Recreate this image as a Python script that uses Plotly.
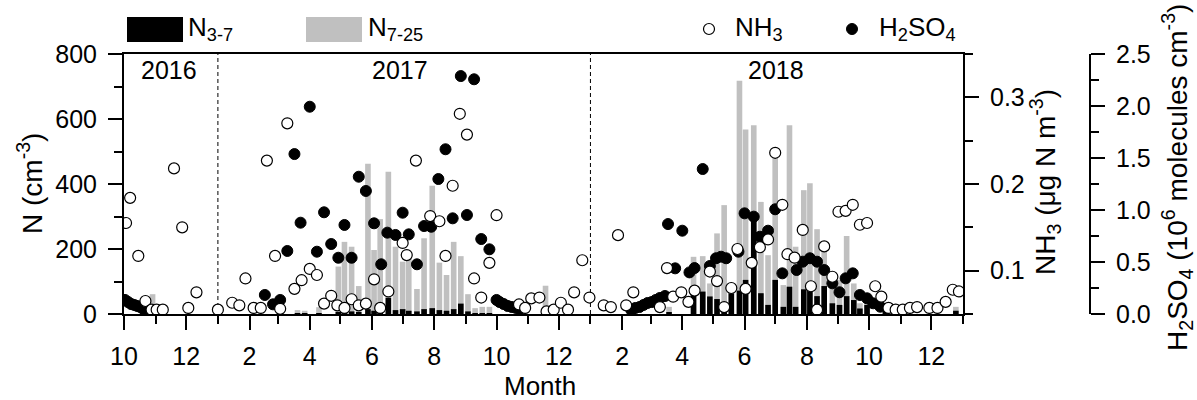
import plotly.graph_objects as go

# ---------------- data ----------------
bar_dates = ["2016-10-29", "2017-03-20", "2017-03-27", "2017-04-10", "2017-04-29", "2017-05-05", "2017-05-12",
             "2017-05-19", "2017-05-28", "2017-06-03", "2017-06-09", "2017-06-17", "2017-06-24",
             "2017-07-01", "2017-07-07", "2017-07-15", "2017-07-22", "2017-07-30", "2017-08-06",
             "2017-08-13", "2017-08-20", "2017-08-27", "2017-09-03", "2017-09-10", "2017-09-17",
             "2017-09-24", "2017-11-18", "2018-03-19", "2018-04-12", "2018-04-21", "2018-04-28",
             "2018-05-05", "2018-05-12", "2018-05-19", "2018-05-27", "2018-06-02", "2018-06-10",
             "2018-06-17", "2018-06-24", "2018-07-01", "2018-07-09", "2018-07-15", "2018-07-21",
             "2018-07-29", "2018-08-04", "2018-08-11", "2018-08-18", "2018-08-26", "2018-09-02",
             "2018-09-09", "2018-09-16", "2018-09-22", "2018-09-29", "2018-10-17", "2018-12-25"]
n7_25 = [61, 12, 10, 21, 146, 222, 207, 86, 462, 197, 292, 438, 207, 161, 188, 77, 233, 395, 158,
         120, 222, 178, 61, 18, 22, 22, 87, 22, 176, 178, 94, 248, 335, 89, 718, 568, 581,
         345, 181, 494, 89, 581, 207, 381, 402, 261, 207, 125, 105, 240, 94, 33, 38, 34, 22]
n3_7 = [5, 3, 3, 3, 6, 10, 8, 6, 15, 10, 12, 50, 12, 15, 10, 8, 15, 18, 12, 10, 15, 32, 8, 3, 3,
        3, 3, 5, 84, 69, 54, 46, 22, 64, 72, 105, 290, 64, 28, 105, 22, 84, 22, 76, 79, 55, 86,
        33, 28, 55, 43, 17, 28, 10, 10]

nh3_dates = ["2016-10-03", "2016-10-07", "2016-10-15", "2016-10-22", "2016-10-28", "2016-11-02",
             "2016-11-08", "2016-11-19", "2016-11-27", "2016-12-03", "2016-12-11", "2017-01-01",
             "2017-01-15", "2017-01-22", "2017-01-28", "2017-02-05", "2017-02-12", "2017-02-18",
             "2017-02-26", "2017-03-03", "2017-03-10", "2017-03-17", "2017-03-24", "2017-04-01",
             "2017-04-08", "2017-04-15", "2017-04-22", "2017-04-28", "2017-05-05", "2017-05-12",
             "2017-05-19", "2017-05-26", "2017-06-03", "2017-06-09", "2017-06-17", "2017-07-01",
             "2017-07-05", "2017-07-14", "2017-07-28", "2017-08-06", "2017-08-12", "2017-08-19",
             "2017-08-26", "2017-09-02", "2017-09-09", "2017-09-16", "2017-09-24", "2017-10-01",
             "2017-10-23", "2017-10-29", "2017-11-04", "2017-11-12", "2017-11-19", "2017-11-26",
             "2017-12-03", "2017-12-10", "2017-12-16", "2017-12-24", "2017-12-31", "2018-01-14",
             "2018-01-21", "2018-01-28", "2018-02-05", "2018-02-12", "2018-03-10", "2018-03-17",
             "2018-03-23", "2018-03-31", "2018-04-07", "2018-04-13", "2018-04-28", "2018-05-05",
             "2018-05-12", "2018-05-19", "2018-05-25", "2018-06-02", "2018-06-08", "2018-06-16",
             "2018-06-24", "2018-07-01", "2018-07-08", "2018-07-13", "2018-07-20", "2018-07-28",
             "2018-08-05", "2018-08-11", "2018-08-18", "2018-08-26", "2018-09-01", "2018-09-08",
             "2018-09-15", "2018-09-22", "2018-09-29", "2018-10-07", "2018-10-13", "2018-10-20",
             "2018-10-27", "2018-11-03", "2018-11-10", "2018-11-17", "2018-11-29", "2018-12-07",
             "2018-12-15", "2018-12-22", "2018-12-28"]
nh3 = [0.155, 0.184, 0.117, 0.065, 0.055, 0.055, 0.055, 0.218, 0.150, 0.057, 0.075, 0.055,
       0.063, 0.060, 0.091, 0.057, 0.057, 0.227, 0.117, 0.056, 0.270, 0.079, 0.089, 0.102,
       0.095, 0.062, 0.071, 0.060, 0.057, 0.067, 0.060, 0.062, 0.090, 0.057, 0.076, 0.132,
       0.118, 0.227, 0.163, 0.157, 0.117, 0.198, 0.281, 0.257, 0.091, 0.069, 0.109, 0.164,
       0.061, 0.057, 0.068, 0.069, 0.053, 0.055, 0.063, 0.055, 0.075, 0.112, 0.069, 0.060,
       0.058, 0.141, 0.060, 0.075, 0.058, 0.103, 0.070, 0.075, 0.064, 0.077, 0.099, 0.088,
       0.058, 0.080, 0.125, 0.079, 0.109, 0.127, 0.136, 0.236, 0.176, 0.119, 0.115, 0.147,
       0.082, 0.055, 0.128, 0.093, 0.168, 0.169, 0.176, 0.153, 0.155, 0.082, 0.070, 0.057,
       0.055, 0.055, 0.057, 0.058, 0.057, 0.057, 0.064, 0.078, 0.076]

h2so4_dates = ["2016-10-02", "2016-10-05", "2016-10-08", "2016-10-11", "2016-10-14", "2016-10-17",
               "2016-10-20", "2017-02-16", "2017-02-24", "2017-03-03", "2017-03-10", "2017-03-17",
               "2017-03-23", "2017-04-01", "2017-04-08", "2017-04-15", "2017-04-22", "2017-04-29",
               "2017-05-05", "2017-05-12", "2017-05-19", "2017-05-26", "2017-06-03", "2017-06-10",
               "2017-06-16", "2017-06-24", "2017-07-01", "2017-07-07", "2017-07-15", "2017-07-22",
               "2017-07-29", "2017-08-05", "2017-08-12", "2017-08-19", "2017-08-27", "2017-09-02",
               "2017-09-09", "2017-09-16", "2017-09-24", "2017-10-01", "2017-10-04", "2017-10-08",
               "2017-10-12", "2017-10-16", "2017-10-20", "2017-10-24", "2018-02-10", "2018-02-14",
               "2018-02-18", "2018-02-22", "2018-02-26", "2018-03-02", "2018-03-06", "2018-03-10",
               "2018-03-15", "2018-03-18", "2018-03-25", "2018-04-01", "2018-04-08", "2018-04-13",
               "2018-04-21", "2018-04-28", "2018-05-04", "2018-05-09", "2018-05-14", "2018-05-26",
               "2018-06-01", "2018-06-10", "2018-06-16", "2018-06-24", "2018-07-01", "2018-07-08",
               "2018-07-22", "2018-07-28", "2018-08-04", "2018-08-11", "2018-08-18", "2018-08-26",
               "2018-09-02", "2018-09-08", "2018-09-15", "2018-09-22", "2018-09-29", "2018-10-05",
               "2018-10-12"]
h2so4 = [0.135, 0.115, 0.096, 0.087, 0.077, 0.067, 0.048, 0.183, 0.093, 0.135, 0.606, 1.538,
         0.878, 1.993, 0.599, 0.978, 0.673, 0.541, 0.856, 0.541, 1.320, 1.183, 0.872, 0.478,
         0.782, 0.760, 0.974, 0.766, 0.478, 0.846, 0.839, 1.298, 1.584, 0.920, 2.288, 0.952,
         2.257, 0.721, 0.622, 0.135, 0.115, 0.096, 0.077, 0.067, 0.058, 0.048, 0.038, 0.058,
         0.067, 0.087, 0.106, 0.115, 0.135, 0.154, 0.173, 0.865, 0.439, 0.801, 0.400, 0.442,
         1.394, 0.462, 0.536, 0.551, 0.536, 0.599, 0.968, 0.936, 0.743, 0.801, 1.007, 0.391,
         0.423, 0.503, 0.536, 0.503, 0.423, 0.295, 0.209, 0.343, 0.391, 0.183, 0.151, 0.103,
         0.070]

x_tick_dates = ["2016-10-01", "2016-12-01", "2017-02-01", "2017-04-01", "2017-06-01", "2017-08-01",
                "2017-10-01", "2017-12-01", "2018-02-01", "2018-04-01", "2018-06-01", "2018-08-01",
                "2018-10-01", "2018-12-01"]
x_tick_labels = ["10", "12", "2", "4", "6", "8", "10", "12", "2", "4", "6", "8", "10", "12"]
year_labels = ["2016", "2017", "2018"]
year_boundaries = ["2017-01-01", "2018-01-01"]

# ---------------- layout helpers ----------------
W, H = 1197, 400
L, R, T, B = 124, 60, 54, 86
PW, PH = W - L - R, H - T - B
def px(x):
    return (x - L) / PW
def py(y):
    return (H - B - y) / PH

FONT = "Arial, 'Liberation Sans', sans-serif"
TICK = 25
TITLE = 28
LEG = 26

fig = go.Figure()
BARW = 5.5 * 86400000
fig.add_trace(go.Bar(x=bar_dates, y=n7_25, width=BARW, marker=dict(color="#c0c0c0", line=dict(width=0)),
                     name="N7-25", yaxis="y"))
fig.add_trace(go.Bar(x=bar_dates, y=n3_7, width=BARW, marker=dict(color="#000000", line=dict(width=0)),
                     name="N3-7", yaxis="y"))
fig.add_trace(go.Scatter(x=h2so4_dates, y=h2so4, mode="markers", yaxis="y2", name="H2SO4",
                         marker=dict(size=11, color="black", line=dict(color="black", width=1))))
fig.add_trace(go.Scatter(x=nh3_dates, y=nh3, mode="markers", yaxis="y3", name="NH3",
                         marker=dict(size=11, color="white", line=dict(color="black", width=1.2))))

axis_common = dict(showline=True, linecolor="black", linewidth=2, ticks="outside", ticklen=14,
                   tickwidth=1.5, tickcolor="black", showgrid=False, zeroline=False, automargin=False,
                   tickfont=dict(family=FONT, size=TICK, color="black"))

fig.update_layout(
    width=W, height=H, margin=dict(l=L, r=R, t=T, b=B, autoexpand=False),
    paper_bgcolor="white", plot_bgcolor="white", barmode="overlay", showlegend=False,
    font=dict(family=FONT, color="black"),
    xaxis=dict(type="date", domain=[0, px(963)], range=["2016-10-01", "2019-01-01"],
               tickmode="array", tickvals=x_tick_dates, ticktext=x_tick_labels,
               mirror=True, ticklabelstandoff=5,
               minor=dict(ticks="outside", ticklen=8, tickwidth=1.5, tickcolor="black",
                          dtick="M1", tick0="2016-10-01", showgrid=False),
               **axis_common),
    yaxis=dict(range=[0, 800], dtick=200, tick0=0, ticklabelstandoff=6,
               minor=dict(ticks="outside", ticklen=8, tickwidth=1.5, tickcolor="black", dtick=100,
                          showgrid=False),
               **axis_common),
    yaxis2=dict(overlaying="y", side="right", anchor="free", position=px(1090), range=[0, 2.5],
                dtick=0.5, tick0=0, tickformat=".1f", ticklabelstandoff=6,
                minor=dict(ticks="outside", ticklen=8, tickwidth=1.5, tickcolor="black", dtick=0.25,
                           showgrid=False),
                **axis_common),
    yaxis3=dict(overlaying="y", side="right", anchor="x", range=[0.05, 0.35], dtick=0.1, tick0=0,
                tickformat=".1f", ticklabelstandoff=6,
                minor=dict(ticks="outside", ticklen=8, tickwidth=1.5, tickcolor="black", dtick=0.05,
                           showgrid=False),
                **axis_common),
)

# year boundaries
for d in year_boundaries:
    fig.add_shape(type="line", xref="x", yref="paper", x0=d, x1=d, y0=0, y1=1,
                  line=dict(color="black", width=1, dash="4px,3px"), layer="below")

annots = []
# year labels
for lab, xc in zip(year_labels, [169, 400, 776]):
    annots.append(dict(text=lab, x=px(xc), y=py(70), xref="paper", yref="paper", showarrow=False,
                       xanchor="center", yanchor="middle", font=dict(size=25)))
# axis titles
annots.append(dict(text="Month", x=px(540), y=py(386), xref="paper", yref="paper", showarrow=False,
                   xanchor="center", yanchor="middle", font=dict(size=TITLE - 2)))
annots.append(dict(text="N (cm<sup>-3</sup>)", x=px(30), y=py(184), xref="paper", yref="paper",
                   showarrow=False, textangle=-90, xanchor="center", yanchor="middle",
                   font=dict(size=TITLE)))
annots.append(dict(text="NH<sub>3</sub> (μg N m<sup>-3</sup>)", x=px(1045), y=py(182), xref="paper",
                   yref="paper", showarrow=False, textangle=-90, xanchor="center", yanchor="middle",
                   font=dict(size=TITLE)))
annots.append(dict(text="H<sub>2</sub>SO<sub>4</sub> (10<sup>6</sup> molecules cm<sup>-3</sup>)",
                   x=px(1177), y=py(178), xref="paper", yref="paper", showarrow=False, textangle=-90,
                   xanchor="center", yanchor="middle", font=dict(size=TITLE)))
# legend
fig.add_shape(type="rect", xref="paper", yref="paper", x0=px(127), x1=px(183), y0=py(42), y1=py(17),
              fillcolor="black", line=dict(width=0))
fig.add_shape(type="rect", xref="paper", yref="paper", x0=px(306), x1=px(362), y0=py(42), y1=py(17),
              fillcolor="#c0c0c0", line=dict(width=0))
fig.add_shape(type="circle", xref="paper", yref="paper", x0=px(703.5), x1=px(714.5), y0=py(34.5),
              y1=py(23.5), fillcolor="white", line=dict(color="black", width=1.2))
fig.add_shape(type="circle", xref="paper", yref="paper", x0=px(846.5), x1=px(857.5), y0=py(34.5),
              y1=py(23.5), fillcolor="black", line=dict(color="black", width=1))
for txt, xl in [("N<sub>3-7</sub>", 186), ("N<sub>7-25</sub>", 366), ("NH<sub>3</sub>", 733),
                ("H<sub>2</sub>SO<sub>4</sub>", 877)]:
    annots.append(dict(text=txt, x=px(xl), y=py(29), xref="paper", yref="paper", showarrow=False,
                       xanchor="left", yanchor="middle", font=dict(size=LEG)))
fig.update_layout(annotations=annots)

fig.write_html("out.html", config={"displayModeBar": False},
               post_script="document.body.style.margin='0px';")
